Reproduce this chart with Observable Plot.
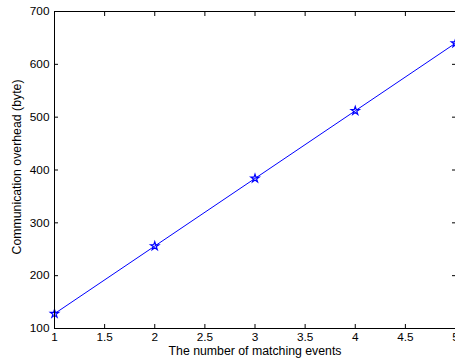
<!DOCTYPE html>
<html>
<head>
<meta charset="utf-8">
<script src="https://cdn.jsdelivr.net/npm/d3@7"></script>
<script src="https://cdn.jsdelivr.net/npm/@observablehq/plot@0.6"></script>
<style>
  html, body { margin: 0; padding: 0; background: #fff; }
  svg { display: block; }
</style>
</head>
<body>
<div id="chart"></div>
<script>
const events = [1, 2, 3, 4, 5];
const overhead = [128, 256, 384, 512, 640];
const xTicks = [1, 1.5, 2, 2.5, 3, 3.5, 4, 4.5, 5];
const yTicks = [100, 200, 300, 400, 500, 600, 700];
const xLabel = "The number of matching events";
const yLabel = "Communication overhead (byte)";

const data = events.map((e, i) => ({x: e, y: overhead[i]}));
const fmt = d => String(d);

const chart = Plot.plot({
  width: 455,
  height: 362,
  marginLeft: 54,
  marginRight: 0,
  marginTop: 11,
  marginBottom: 34,
  style: {fontFamily: "'Liberation Sans', Arial, Helvetica, sans-serif", fontSize: "12px", color: "#000", background: "#fff"},
  x: {domain: [1, 5]},
  y: {domain: [100, 700]},
  marks: [
    Plot.line(data, {x: "x", y: "y", stroke: "#0000ff", strokeWidth: 1}),
    Plot.dot(data, {x: "x", y: "y", symbol: "star", r: 2.6, stroke: "#0000ff", fill: "none", strokeWidth: 1.2}),
    Plot.axisX({anchor: "bottom", ticks: xTicks, tickFormat: fmt, tickSize: -4, tickPadding: 8.5, label: null, fontSize: 11.8}),
    Plot.axisX({anchor: "top", ticks: xTicks, tickSize: -4, tickFormat: () => "", label: null}),
    Plot.axisY({anchor: "left", ticks: yTicks, tickFormat: fmt, tickSize: -4, tickPadding: 9, label: null, fontSize: 11.8}),
    Plot.axisY({anchor: "right", ticks: yTicks, tickSize: -4, tickFormat: () => "", label: null}),
    Plot.frame({stroke: "#000", strokeWidth: 1}),
    Plot.text([xLabel], {text: d => d, frameAnchor: "bottom", dy: 26, fontSize: 12.3}),
    Plot.text([yLabel], {text: d => d, frameAnchor: "left", textAnchor: "middle", rotate: -90, dx: -37, dy: -3, fontSize: 12.3})
  ]
});
document.getElementById("chart").appendChild(chart);
</script>
</body>
</html>
